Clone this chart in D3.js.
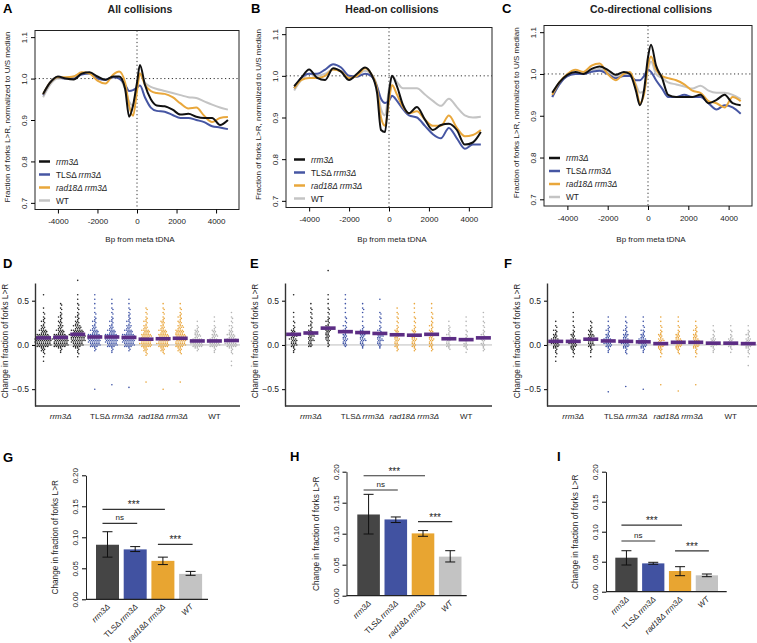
<!DOCTYPE html>
<html lang="en">
<head>
<meta charset="UTF-8">
<title>Fork direction around tDNAs</title>
<script src="https://d3js.org/d3.v7.min.js"></script>
<style>
  body { margin: 0; background: #fff; }
  text { font-family: 'Liberation Sans', Arial, Helvetica, sans-serif; fill: #222; }
</style>
</head>
<body>
<script>
// ---------- shared
const genotypes = ['rrm3', 'TLS', 'rad18', 'WT'];
const lineColors = { rrm3: '#111111', TLS: '#4656a3', rad18: '#e9a73b', WT: '#c4c4c4' };
const dotColors = ['#222222', '#3d52a5', '#e9a53a', '#b4b4b4'];
const barColors = ['#454545', '#4152a1', '#e8a531', '#c3c3c3'];
const labelParts = {
  rrm3: [['rrm3Δ', true]],
  TLS: [['TLSΔ ', false], ['rrm3Δ', true]],
  rad18: [['rad18Δ rrm3Δ', true]],
  WT: [['WT', false]]
};

// ---------- A-C profiles (bp from meta tDNA)
const bp = [-4750,-4400,-4000,-3600,-3200,-2800,-2400,-2000,-1600,-1200,-900,-600,-400,-200,0,150,400,700,1000,1400,1800,2200,2600,3000,3400,3800,4200,4600];

const aRrm3 = [0.963,0.99,1.005,1.0,0.998,1.012,1.015,1.005,0.997,1.005,1.005,0.975,0.908,0.935,0.99,1.033,0.985,0.95,0.935,0.933,0.925,0.913,0.915,0.908,0.905,0.905,0.888,0.9];
const aRad18 = [0.962,0.99,1.003,1.003,1.005,1.015,1.012,0.995,0.988,1.01,1.017,0.99,0.935,0.91,0.97,1.013,0.985,0.97,0.965,0.963,0.955,0.94,0.928,0.93,0.91,0.895,0.905,0.907];
const aWT = [0.955,0.985,1.0,1.0,1.005,1.012,1.013,1.0,0.998,1.003,1.0,0.975,0.945,0.935,0.985,1.01,0.99,0.98,0.975,0.97,0.965,0.96,0.955,0.953,0.945,0.937,0.93,0.925];
const aTLS = [0.96,0.99,1.003,1.0,1.0,1.01,1.012,1.0,0.997,1.003,1.0,0.985,0.97,0.972,0.978,0.983,0.955,0.93,0.922,0.92,0.912,0.905,0.905,0.9,0.895,0.885,0.882,0.878];

const bRrm3 = [0.975,0.995,1.015,0.995,0.99,1.018,1.01,0.99,1.005,1.02,1.005,0.96,0.87,0.865,0.96,1.0,0.975,0.93,0.91,0.925,0.895,0.87,0.882,0.885,0.87,0.835,0.84,0.865];
const bRad18 = [0.97,0.99,0.995,0.995,1.0,1.015,1.01,0.995,1.0,1.018,1.005,0.97,0.9,0.88,0.94,0.978,0.955,0.925,0.91,0.915,0.895,0.88,0.88,0.905,0.875,0.855,0.858,0.87];
const bWT = [0.965,0.99,1.005,1.0,1.005,1.015,1.012,0.995,1.0,1.012,1.005,0.975,0.92,0.905,0.97,1.0,0.985,0.97,0.97,0.97,0.955,0.94,0.928,0.945,0.925,0.905,0.9,0.902];
const bTLS = [0.97,0.995,1.005,1.005,1.015,1.028,1.02,1.0,0.998,1.005,1.0,0.975,0.945,0.935,0.94,0.952,0.94,0.92,0.905,0.9,0.88,0.86,0.85,0.875,0.85,0.825,0.835,0.835];

const cRrm3 = [0.955,0.98,0.998,1.005,1.0,1.012,1.018,1.01,0.998,1.005,1.0,0.96,0.925,0.96,1.04,1.07,1.02,0.99,0.95,0.945,0.945,0.945,0.95,0.93,0.938,0.95,0.93,0.925];
const cRad18 = [0.95,0.98,1.0,1.01,1.005,1.02,1.025,1.0,0.985,1.0,1.005,0.97,0.93,0.95,1.02,1.042,1.01,0.995,0.99,0.985,0.975,0.96,0.955,0.935,0.93,0.92,0.945,0.935];
const cWT = [0.945,0.975,0.995,1.0,1.0,1.01,1.012,1.005,0.995,1.0,0.998,0.975,0.955,0.96,1.01,1.03,1.0,0.99,0.98,0.975,0.97,0.965,0.972,0.96,0.955,0.955,0.95,0.94];
const cTLS = [0.945,0.975,0.995,1.0,1.0,1.005,1.008,1.0,0.99,0.995,0.995,0.985,0.985,0.995,1.01,1.005,0.985,0.965,0.945,0.945,0.95,0.945,0.945,0.93,0.915,0.925,0.92,0.905];

const profXTicks = [-4000, -2000, 0, 2000, 4000];
const profYTicks = [0.7, 0.8, 0.9, 1.0, 1.1];

// ---------- D-F swarms: dots per 0.05 bin, 12 columns (3 replicates x 4 genotypes)
const dotBins = [-0.25,-0.2,-0.15,-0.1,-0.05,0,0.05,0.1,0.15,0.2,0.25,0.3,0.35,0.4,0.45,0.5,0.55,0.6];
const dCounts = [
  [0,1,1,2,6,20,24,18,10,6,4,3,2,1,0,0,1,0],
  [0,0,0,1,4,20,22,18,10,7,5,4,3,2,2,0,0,0],
  [0,0,1,2,4,14,20,22,16,10,6,4,3,2,2,1,1,0],
  [0,0,0,0,3,14,18,16,10,6,4,3,2,1,1,1,1,0],
  [0,0,0,1,3,14,18,16,10,6,4,3,2,2,1,1,0,0],
  [0,0,0,0,3,14,18,16,10,7,4,3,3,2,1,1,0,0],
  [0,0,0,3,6,16,16,14,10,6,4,3,2,2,0,0,0,0],
  [0,0,0,2,6,16,16,14,10,6,5,3,2,2,1,0,0,0],
  [0,0,0,2,6,14,16,14,12,8,5,4,3,2,1,0,0,0],
  [0,0,0,0,4,16,14,8,6,3,1,0,0,0,0,0,0,0],
  [0,0,0,1,3,14,12,8,5,3,1,1,0,0,0,0,0,0],
  [1,1,0,2,4,16,14,10,6,4,2,2,1,0,0,0,0,0]
];
const dOutliers = [[], [], [0.73], [-0.5], [-0.45], [-0.48], [-0.42], [-0.5], [-0.42], [], [], []];
const dMedians = [0.08,0.085,0.12,0.09,0.09,0.085,0.065,0.07,0.075,0.045,0.045,0.05];

const eCounts = [
  [0,0,0,1,3,8,10,8,6,3,2,1,1,0,0,0,1,0],
  [0,0,0,0,0,6,8,8,6,4,3,2,2,2,1,0,0,0],
  [0,0,0,0,0,3,5,6,7,6,4,3,2,2,1,1,1,0],
  [0,0,0,0,0,5,7,6,5,4,2,2,1,1,1,1,1,0],
  [0,0,0,0,1,5,8,7,5,3,1,1,1,2,1,0,0,0],
  [0,0,0,0,1,5,8,8,4,3,2,2,2,0,0,1,0,0],
  [0,0,0,0,3,6,7,6,5,3,2,2,2,1,0,0,0,0],
  [0,0,0,0,3,6,7,6,5,3,2,2,1,1,1,0,0,0],
  [0,0,0,0,3,6,7,6,5,4,3,2,2,1,1,0,0,0],
  [0,0,0,0,2,6,6,4,3,3,1,0,0,0,0,0,0,0],
  [0,0,0,1,2,6,5,3,2,1,1,1,0,0,0,0,0,0],
  [0,0,0,0,3,5,5,4,3,2,2,1,1,0,0,0,0,0]
];
const eOutliers = [[], [], [0.84], [], [], [], [], [], [], [], [], []];
const eMedians = [0.12,0.135,0.19,0.15,0.14,0.13,0.115,0.11,0.12,0.07,0.06,0.08];

const fCounts = [
  [0,1,1,2,4,10,10,6,4,2,1,0,0,0,0,0,0,0],
  [0,0,1,2,5,10,9,5,3,2,1,1,1,0,0,0,0,0],
  [0,0,1,1,3,8,10,8,5,3,2,0,0,0,0,0,0,0],
  [0,0,0,1,3,10,10,6,4,3,1,1,0,0,0,0,0,0],
  [0,0,0,2,4,10,9,7,4,3,2,1,0,0,0,0,0,0],
  [0,0,0,1,4,10,10,6,4,2,1,1,0,0,0,0,0,0],
  [0,0,1,2,5,10,8,5,3,2,1,1,0,0,0,0,0,0],
  [0,0,0,2,5,10,9,6,3,2,1,1,0,0,0,0,0,0],
  [0,0,1,2,4,9,8,6,4,3,1,0,0,0,0,0,0,0],
  [0,0,0,1,3,8,7,3,2,1,0,0,0,0,0,0,0,0],
  [0,0,0,1,2,8,7,3,2,1,0,0,0,0,0,0,0,0],
  [1,0,1,2,4,9,7,4,3,1,0,0,0,0,0,0,0,0]
];
const fOutliers = [[], [], [], [-0.53], [-0.47], [-0.5], [-0.45], [-0.52], [-0.45], [], [], []];
const fMedians = [0.04,0.04,0.065,0.045,0.04,0.035,0.015,0.03,0.03,0.02,0.02,0.015];
const swarmYTicks = [-0.5, 0, 0.5];

// ---------- G-I bar charts: mean with error bars
const gMean = [0.088, 0.0805, 0.062, 0.041];
const gLow  = [0.068, 0.077, 0.056, 0.0387];
const gHigh = [0.109, 0.085, 0.068, 0.045];
const hMean = [0.131, 0.123, 0.1005, 0.063];
const hLow  = [0.0995, 0.118, 0.0958, 0.0544];
const hHigh = [0.1635, 0.127, 0.105, 0.0726];
const iMean = [0.0567, 0.0472, 0.0345, 0.0273];
const iLow  = [0.0445, 0.0457, 0.0267, 0.025];
const iHigh = [0.0683, 0.049, 0.0417, 0.0295];
const gSig = [[0, 2, 0.145, '***'], [0, 1, 0.1226, 'ns'], [2, 3, 0.0887, '***']];
const hSig = [[0, 2, 0.1935, '***'], [0, 1, 0.1705, 'ns'], [2, 3, 0.1194, '***']];
const iSig = [[0, 2, 0.111, '***'], [0, 1, 0.0845, 'ns'], [2, 3, 0.068, '***']];
const barYTicks = [0, 0.05, 0.1, 0.15, 0.2];

const W = 757, H = 643;
const svg = d3.select('body').append('svg').attr('width', W).attr('height', H);

function genoLabel(sel, key, italicWT) {
  labelParts[key].forEach(([t, it]) => {
    sel.append('tspan').text(t)
      .attr('font-style', (it || (italicWT && key === 'WT')) ? 'italic' : 'normal');
  });
}

function letter(t, x, y) {
  svg.append('text').attr('x', x).attr('y', y).attr('font-size', 13)
    .attr('font-weight', 'bold').style('fill', '#000').text(t);
}

// ================= A-C
const profPanels = [
  { letter: 'A', lx: 3, title: 'All collisions', x0: 35, x1: 239, y0: 30.5, y1: 209.5, legX: 39,
    series: { rrm3: aRrm3, TLS: aTLS, rad18: aRad18, WT: aWT } },
  { letter: 'B', lx: 251, title: 'Head-on collisions', x0: 286, x1: 492, y0: 27.5, y1: 207.5, legX: 294,
    series: { rrm3: bRrm3, TLS: bTLS, rad18: bRad18, WT: bWT } },
  { letter: 'C', lx: 502, title: 'Co-directional collisions', x0: 544, x1: 752, y0: 25.5, y1: 206, legX: 549,
    series: { rrm3: cRrm3, TLS: cTLS, rad18: cRad18, WT: cWT } }
];

profPanels.forEach(p => {
  const x = d3.scaleLinear().domain([-5160, 5160]).range([p.x0, p.x1]);
  const y = d3.scaleLinear().domain([0.684, 1.116]).range([p.y1, p.y0]);
  const g = svg.append('g');
  letter(p.letter, p.lx, 13);
  g.append('text').attr('x', (p.x0 + p.x1) / 2 + 3).attr('y', 13).attr('text-anchor', 'middle')
    .attr('font-size', 10.5).attr('font-weight', 'bold').text(p.title);

  // reference lines
  g.append('line').attr('x1', p.x0).attr('x2', p.x1).attr('y1', y(1)).attr('y2', y(1))
    .attr('stroke', '#333').attr('stroke-dasharray', '1.2,2.6');
  g.append('line').attr('x1', x(0)).attr('x2', x(0)).attr('y1', p.y0).attr('y2', p.y1)
    .attr('stroke', '#333').attr('stroke-dasharray', '1.2,2.6');

  const line = d3.line().x((d, i) => x(bp[i])).y(d => y(d)).curve(d3.curveMonotoneX);
  ['WT', 'TLS', 'rad18', 'rrm3'].forEach(k => {
    g.append('path').datum(p.series[k]).attr('d', line).attr('fill', 'none')
      .attr('stroke', lineColors[k]).attr('stroke-width', 2);
  });

  g.append('rect').attr('x', p.x0).attr('y', p.y0).attr('width', p.x1 - p.x0).attr('height', p.y1 - p.y0)
    .attr('fill', 'none').attr('stroke', '#222').attr('stroke-width', 1);

  const xa = g.append('g').attr('transform', `translate(0,${p.y1})`)
    .call(d3.axisBottom(x).tickValues(profXTicks).tickSize(4).tickPadding(5).tickFormat(d => String(d)));
  xa.select('.domain').remove();
  xa.attr('font-size', 8).attr('font-family', null);

  const ya = g.append('g').attr('transform', `translate(${p.x0},0)`)
    .call(d3.axisLeft(y).tickValues(profYTicks).tickSize(4).tickFormat(d3.format('.1f')));
  ya.select('.domain').remove();
  ya.attr('font-size', 8).attr('font-family', null);
  ya.selectAll('text').attr('transform', 'rotate(-90)').attr('x', 0).attr('y', -8)
    .attr('dy', 0).attr('text-anchor', 'middle');

  g.append('text').attr('transform', `translate(${p.x0 - 25},${(p.y0 + p.y1) / 2 - 3}) rotate(-90)`)
    .attr('text-anchor', 'middle').attr('font-size', 8)
    .text('Fraction of forks L>R, normalized to U/S median');
  g.append('text').attr('x', (p.x0 + p.x1) / 2 + 3).attr('y', 242).attr('text-anchor', 'middle')
    .attr('font-size', 8).text('Bp from meta tDNA');

  // legend
  genotypes.forEach((k, i) => {
    const ly = p.y1 - 48 + i * 13;
    g.append('line').attr('x1', p.legX).attr('x2', p.legX + 11).attr('y1', ly).attr('y2', ly)
      .attr('stroke', lineColors[k]).attr('stroke-width', 2.5);
    const t = g.append('text').attr('x', p.legX + 17).attr('y', ly + 3).attr('font-size', 8.3);
    genoLabel(t, k, false);
  });
});

// ================= D-F
const swarmPanels = [
  { letter: 'D', lx: 3, x0: 35, x1: 240, counts: dCounts, outliers: dOutliers, med: dMedians },
  { letter: 'E', lx: 250, x0: 285, x1: 492, counts: eCounts, outliers: eOutliers, med: eMedians },
  { letter: 'F', lx: 504, x0: 547, x1: 757, counts: fCounts, outliers: fOutliers, med: fMedians }
];

swarmPanels.forEach(p => {
  const y = d3.scaleLinear().domain([-0.69, 0.7]).range([406, 283]);
  const x = d3.scalePoint().domain(d3.range(12)).range([p.x0, p.x1]).padding(0.5);
  const g = svg.append('g');
  letter(p.letter, p.lx, 268);

  g.append('line').attr('x1', p.x0).attr('x2', p.x1).attr('y1', y(0)).attr('y2', y(0))
    .attr('stroke', '#bdbdbd').attr('stroke-width', 1);

  p.counts.forEach((counts, c) => {
    const cx = x(c);
    const pts = [];
    counts.forEach((n, b) => {
      for (let i = 0; i < n; i++) {
        const row = i % 3, k = Math.floor(i / 3);
        const off = (k % 2 ? -1 : 1) * Math.ceil(k / 2) * 2.1 + (row === 1 ? 1.05 : 0);
        pts.push([cx + off, y(dotBins[b]) + (row - 1) * 1.45]);
      }
    });
    p.outliers[c].forEach(v => pts.push([cx, y(v)]));
    g.append('g').selectAll('circle').data(pts).join('circle')
      .attr('cx', d => d[0]).attr('cy', d => d[1]).attr('r', 0.8)
      .attr('fill', dotColors[Math.floor(c / 3)]);
  });

  g.selectAll('rect.med').data(p.med).join('rect').attr('class', 'med')
    .attr('x', (d, i) => x(i) - 7.5).attr('y', d => y(d) - 1.8)
    .attr('width', 15).attr('height', 3.6).attr('fill', '#5c2d84');

  const ya = g.append('g').attr('transform', `translate(${p.x0},0)`)
    .call(d3.axisLeft(y).tickValues(swarmYTicks).tickSize(3).tickSizeOuter(0).tickFormat(d3.format('.1f')));
  ya.select('.domain').attr('stroke', '#333').attr('stroke-width', 1.4);
  ya.attr('font-size', 8.5).attr('font-family', null);
  g.append('line').attr('x1', p.x0).attr('x2', p.x1).attr('y1', 406).attr('y2', 406)
    .attr('stroke', '#333').attr('stroke-width', 1.4);

  genotypes.forEach((k, i) => {
    const t = g.append('text').attr('x', x(i * 3 + 1)).attr('y', 419)
      .attr('text-anchor', 'middle').attr('font-size', 8);
    genoLabel(t, k, false);
  });

  g.append('text').attr('transform', `translate(${p.x0 - 27},341) rotate(-90)`)
    .attr('text-anchor', 'middle').attr('font-size', 8.3).text('Change in fraction of forks L>R');
});

// ================= G-I
const barPanels = [
  { letter: 'G', lx: 3, ly: 462, ax: 86, b0: 96, b1: 202.1, xEnd: 208, y0: 599.3, y1: 475.3,
    mean: gMean, lo: gLow, hi: gHigh, sig: gSig },
  { letter: 'H', lx: 290, ly: 461, ax: 346.5, b0: 357.3, b1: 461.5, xEnd: 466.7, y0: 595.7, y1: 471.7,
    mean: hMean, lo: hLow, hi: hHigh, sig: hSig },
  { letter: 'I', lx: 557, ly: 461, ax: 606, b0: 615.3, b1: 718, xEnd: 726.7, y0: 591.7, y1: 471.7,
    mean: iMean, lo: iLow, hi: iHigh, sig: iSig }
];

barPanels.forEach(p => {
  const y = d3.scaleLinear().domain([0, 0.2]).range([p.y0, p.y1]);
  const x = d3.scaleBand().domain(d3.range(4)).range([p.b0, p.b1]).paddingInner(0.17).paddingOuter(0);
  const g = svg.append('g');
  letter(p.letter, p.lx, p.ly);

  g.selectAll('rect').data(p.mean).join('rect')
    .attr('x', (d, i) => x(i)).attr('y', d => y(d))
    .attr('width', x.bandwidth()).attr('height', d => p.y0 - y(d))
    .attr('fill', (d, i) => barColors[i]);

  // error bars
  p.mean.forEach((m, i) => {
    const cx = x(i) + x.bandwidth() / 2;
    g.append('line').attr('x1', cx).attr('x2', cx).attr('y1', y(p.lo[i])).attr('y2', y(p.hi[i]))
      .attr('stroke', '#111').attr('stroke-width', 1);
    [p.lo[i], p.hi[i]].forEach(v => g.append('line').attr('x1', cx - 5).attr('x2', cx + 5)
      .attr('y1', y(v)).attr('y2', y(v)).attr('stroke', '#111').attr('stroke-width', 1));
  });

  // significance brackets
  p.sig.forEach(([a, b, v, lab]) => {
    const xa = x(a) + x.bandwidth() / 2 - 5, xb = x(b) + x.bandwidth() / 2 + 2;
    g.append('line').attr('x1', xa).attr('x2', xb).attr('y1', y(v)).attr('y2', y(v))
      .attr('stroke', '#333').attr('stroke-width', 1.2);
    g.append('text').attr('x', (xa + xb) / 2).attr('y', y(v) - (lab === 'ns' ? 3 : 1))
      .attr('text-anchor', 'middle').attr('font-size', lab === 'ns' ? 8 : 10)
      .style('fill', '#222').text(lab);
  });

  const ya = g.append('g').attr('transform', `translate(${p.ax},0)`)
    .call(d3.axisLeft(y).tickValues(barYTicks).tickSize(4).tickSizeOuter(0).tickFormat(d3.format('.2f')));
  ya.select('.domain').attr('stroke', '#222');
  ya.attr('font-size', 8).attr('font-family', null);
  ya.selectAll('text').attr('transform', 'rotate(-90)').attr('x', 0).attr('y', -8)
    .attr('dy', 0).attr('text-anchor', 'middle');
  g.append('line').attr('x1', p.ax).attr('x2', p.xEnd).attr('y1', p.y0).attr('y2', p.y0)
    .attr('stroke', '#222').attr('stroke-width', 1.2);

  genotypes.forEach((k, i) => {
    const cx = x(i) + x.bandwidth() / 2 + 3;
    const t = g.append('text').attr('transform', `translate(${cx},${p.y0 + 8}) rotate(-45)`)
      .attr('text-anchor', 'end').attr('font-size', 8);
    genoLabel(t, k, true);
  });

  g.append('text').attr('transform', `translate(${p.ax - 28},${(p.y0 + p.y1) / 2}) rotate(-90)`)
    .attr('text-anchor', 'middle').attr('font-size', 8.3).text('Change in fraction of forks L>R');
});
</script>
</body>
</html>
